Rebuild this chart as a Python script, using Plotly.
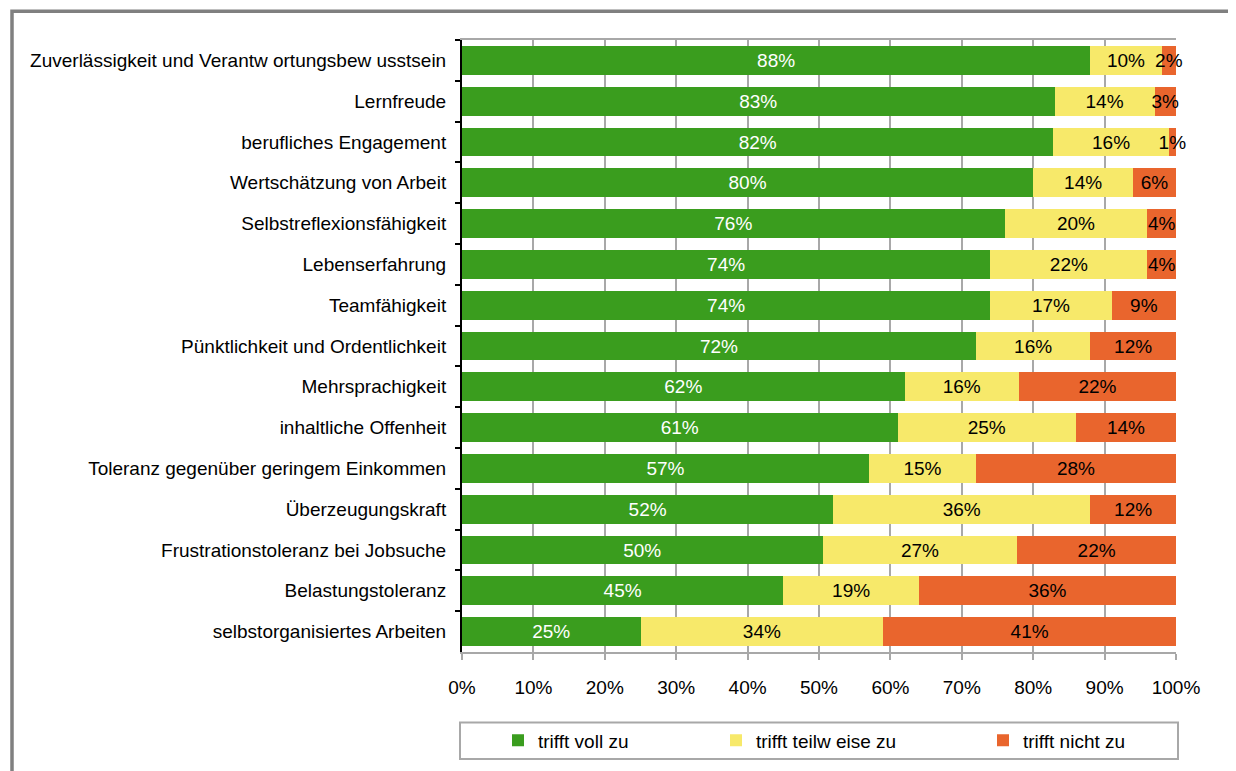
import plotly.graph_objects as go

categories = [
    "Zuverlässigkeit und Verantw ortungsbew usstsein",
    "Lernfreude",
    "berufliches Engagement",
    "Wertschätzung von Arbeit",
    "Selbstreflexionsfähigkeit",
    "Lebenserfahrung",
    "Teamfähigkeit",
    "Pünktlichkeit und Ordentlichkeit",
    "Mehrsprachigkeit",
    "inhaltliche Offenheit",
    "Toleranz gegenüber geringem Einkommen",
    "Überzeugungskraft",
    "Frustrationstoleranz bei Jobsuche",
    "Belastungstoleranz",
    "selbstorganisiertes Arbeiten",
]
voll = [88, 83, 82, 80, 76, 74, 74, 72, 62, 61, 57, 52, 50, 45, 25]
teilweise = [10, 14, 16, 14, 20, 22, 17, 16, 16, 25, 15, 36, 27, 19, 34]
nicht = [2, 3, 1, 6, 4, 4, 9, 12, 22, 14, 28, 12, 22, 36, 41]
series_names = ["trifft voll zu", "trifft teilw eise zu", "trifft nicht zu"]
tick_vals = [0, 10, 20, 30, 40, 50, 60, 70, 80, 90, 100]
tick_text = [f"{v}%" for v in tick_vals]

colors = ["#3A9D1E", "#F7E96A", "#E9652D"]
text_colors = ["#FFFFFF", "#000000", "#000000"]
FONT = "Liberation Sans, Arial, sans-serif"
FS = 19

# page offset (default body margin of the html page)
OFF = 8
W, H = 1236 - OFF, 771 - OFF
# plot area in page pixels
L, R, T, B = 462, 1176, 40, 657
pw, ph = R - L, B - T


def px_x(p):
    return (p - L) / pw


def px_y(p):
    return (B - p) / ph


fig = go.Figure()
legend_ids = ["legend", "legend2", "legend3"]
for vals, name, col, tcol, lg in zip([voll, teilweise, nicht], series_names, colors, text_colors, legend_ids):
    fig.add_trace(go.Bar(
        y=categories, x=vals, name=name, orientation="h",
        marker=dict(color=col, line=dict(width=0)),
        text=[f"{v}%" for v in vals],
        textposition="inside", insidetextanchor="middle",
        textangle=0, constraintext="none", cliponaxis=False,
        textfont=dict(family=FONT, size=FS, color=tcol),
        legend=lg, hoverinfo="skip",
    ))

legend_common = dict(
    orientation="h", yanchor="middle", xanchor="left",
    bgcolor="rgba(0,0,0,0)", borderwidth=0,
    font=dict(family=FONT, size=FS, color="#000000"),
    itemwidth=30,
)

fig.update_layout(
    width=W, height=H,
    margin=dict(l=L - OFF, r=W - (R - OFF), t=T - OFF, b=H - (B - OFF), pad=0),
    barmode="stack", barnorm="percent", bargap=0.29,
    plot_bgcolor="#FFFFFF", paper_bgcolor="#FFFFFF",
    font=dict(family=FONT, size=FS, color="#000000"),
    uniformtext=dict(minsize=FS, mode="show"),
    showlegend=True,
    legend=dict(x=px_x(498), y=px_y(746), **legend_common),
    legend2=dict(x=px_x(716), y=px_y(746), **legend_common),
    legend3=dict(x=px_x(983), y=px_y(746), **legend_common),
    xaxis=dict(
        range=[0, 100.001], tickvals=tick_vals, ticktext=tick_text,
        showgrid=True, gridcolor="#A8A8A8", gridwidth=2,
        showline=True, linecolor="#A8A8A8", linewidth=2, mirror=True,
        ticks="outside", ticklen=6, tickwidth=2, tickcolor="#A8A8A8",
        zeroline=False, ticklabelstandoff=11,
        tickfont=dict(family=FONT, size=FS, color="#000000"),
    ),
    yaxis=dict(
        autorange="reversed", showgrid=False,
        showline=True, linecolor="#000000", linewidth=2,
        ticks="outside", ticklen=5, tickwidth=2, tickcolor="#000000",
        tickson="boundaries", ticklabelstandoff=10,
        tickfont=dict(family=FONT, size=FS, color="#000000"),
    ),
    shapes=[
        # outer frame
        dict(type="rect", xref="paper", yref="paper",
             x0=px_x(12), x1=px_x(1300), y0=px_y(830), y1=px_y(11),
             line=dict(color="#808080", width=3.5), fillcolor="rgba(0,0,0,0)", layer="above"),
        # legend box
        dict(type="rect", xref="paper", yref="paper",
             x0=px_x(460), x1=px_x(1178), y0=px_y(765), y1=px_y(728),
             line=dict(color="#A8A8A8", width=2), fillcolor="rgba(0,0,0,0)", layer="above"),
    ],
)

fig.write_html("out.html")
